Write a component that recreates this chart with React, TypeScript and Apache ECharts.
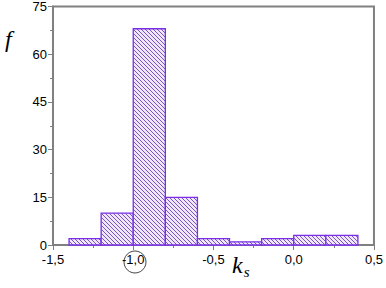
import React, { useEffect, useRef } from "react";
import * as echarts from "echarts";

const binStarts = [-1.4, -1.2, -1.0, -0.8, -0.6, -0.4, -0.2, 0.0, 0.2];
const binWidth = 0.2;
const counts = [2, 10, 68, 15, 2, 1, 2, 3, 3];
const yTicks = [0, 15, 30, 45, 60, 75];

export default function App() {
  const ref = useRef<HTMLDivElement>(null);
  useEffect(() => {
    const chart = echarts.init(ref.current!, null, { renderer: "svg" });
    const data = binStarts.map((s, i) => [s, s + binWidth, counts[i]]);
    const gray = "#808080";
    chart.setOption({
      animation: false,
      grid: { left: 53, right: 10, top: 6, bottom: 43, show: true, borderColor: gray, borderWidth: 2 },
      xAxis: {
        type: "value",
        min: -1.5,
        max: 0.5,
        interval: 0.5,
        axisLine: { show: true, onZero: false, lineStyle: { color: gray, width: 2 } },
        axisTick: { show: true, length: 5, lineStyle: { color: gray, width: 1 } },
        minorTick: { show: true, splitNumber: 2, length: 3, lineStyle: { color: gray } },
        splitLine: { show: false },
        axisLabel: {
          color: "#000",
          fontFamily: "Liberation Sans",
          fontSize: 13,
          margin: 8,
          formatter: (v: number) => v.toFixed(1).replace(".", ","),
        },
      },
      yAxis: {
        type: "value",
        min: yTicks[0],
        max: yTicks[yTicks.length - 1],
        interval: 15,
        axisLine: { show: true, onZero: false, lineStyle: { color: gray, width: 2 } },
        axisTick: { show: true, length: 5, lineStyle: { color: gray, width: 1 } },
        minorTick: { show: true, splitNumber: 2, length: 3, lineStyle: { color: gray } },
        splitLine: { show: false },
        axisLabel: { color: "#000", fontFamily: "Liberation Sans", fontSize: 13, margin: 6 },
      },
      series: [
        {
          type: "custom",
          data,
          encode: { x: [0, 1], y: 2 },
          renderItem: (params: any, api: any) => {
            const p0 = api.coord([api.value(0), api.value(2)]);
            const p1 = api.coord([api.value(1), 0]);
            const L = p0[0], T = p0[1], R = p1[0], B = p1[1];
            const children: any[] = [
              { type: "rect", shape: { x: L, y: T, width: R - L, height: B - T }, style: { fill: "#efe6fb", stroke: "none" } },
            ];
            const sp = 4;
            const cMin = Math.floor((L - B) / sp) * sp;
            const cMax = Math.ceil((R - T) / sp) * sp;
            for (let c = cMin; c <= cMax; c += sp) {
              const y0 = Math.max(T, L - c);
              const y1 = Math.min(B, R - c);
              if (y1 > y0 + 0.3) {
                children.push({
                  type: "line",
                  shape: { x1: y0 + c, y1: y0, x2: y1 + c, y2: y1 },
                  style: { stroke: "#7d55c0", lineWidth: 1 },
                });
              }
            }
            children.push({
              type: "rect",
              shape: { x: L, y: T, width: R - L, height: B - T },
              style: { fill: "none", stroke: "#7a2ee8", lineWidth: 1.3 },
            });
            return { type: "group", children };
          },
        },
      ],
      graphic: [
        {
          type: "text",
          left: 5,
          top: 27,
          style: { text: "f", font: "italic 24px 'Liberation Serif'", fill: "#000" },
        },
        {
          type: "text",
          left: 232,
          top: 253,
          style: {
            text: "{k|k}{s|s}",
            rich: {
              k: { font: "italic 24px 'Liberation Serif'", fill: "#000" },
              s: { font: "italic 15px 'Liberation Serif'", fill: "#000", padding: [14, 0, 0, 1] },
            },
          },
        },
        {
          type: "circle",
          shape: { cx: 135, cy: 262, r: 11 },
          style: { fill: "none", stroke: "#444", lineWidth: 1 },
        },
      ],
    });
    return () => chart.dispose();
  }, []);
  return <div ref={ref} style={{ width: 386, height: 288, position: "absolute", left: 0, top: 0 }} />;
}
